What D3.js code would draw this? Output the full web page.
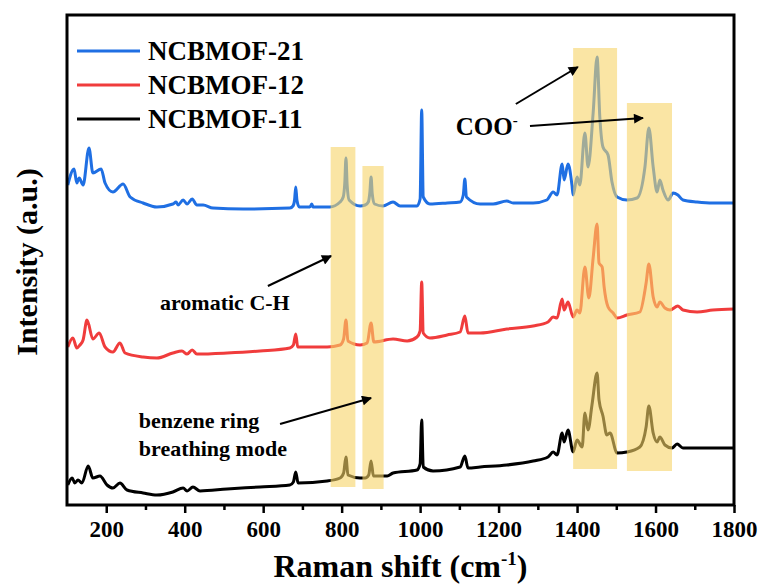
<!DOCTYPE html>
<meta charset="utf-8">
<style>
body { margin: 0; background: #fff; }
text { font-family: "Times New Roman", "Liberation Serif", serif; font-weight: bold; fill: #000; }
.tick text { font-size: 23px; }
</style>
<script src="https://cdn.jsdelivr.net/npm/d3@7"></script>
<body>
<svg width="764" height="586"></svg>
<script>

// Raman spectra: [wavenumber, intensity (a.u., stacked)]
var ncb21 = [[102,320],[118,336],[125,322],[131,327],[141,320],[156,357],[166,332],[187,336],[197,322],[217,313],
  [243,321],[261,308],[294,302],[329,298],[370,301],[378,303],[383,300],[396,305],[406,301],[419,306],[431,300],
  [447,300],[472,297],[549,296],[668,297],[676,299],[680,305],[683,318],[686,305],[692,298],[719,298],[724,301],
  [727,298],[770,298],[796,303],[804,308],[808,322],[811,347],[814,320],[819,305],[847,299],[860,300],[868,303],
  [872,313],[875,328],[878,311],[884,301],[905,299],[931,303],[949,299],[992,299],[1000,306],[1004,395],
  [1008,308],[1025,301],[1069,302],[1102,303],[1110,310],[1114,326],[1118,308],[1153,301],[1186,301],[1221,304],
  [1237,302],[1288,302],[1323,305],[1339,313],[1349,310],[1362,341],[1367,325],[1377,341],[1387,320],[1390,310],
  [1400,328],[1407,320],[1420,372],[1428,338],[1441,392],[1451,448],[1458,388],[1466,358],[1479,350],[1489,323],
  [1502,308],[1527,305],[1553,307],[1573,338],[1583,377],[1594,338],[1604,313],[1611,325],[1619,315],[1632,305],
  [1645,312],[1657,310],[1670,305],[1706,303],[1746,302],[1800,302]];

var ncb12 = [[102,158],[115,167],[125,157],[133,160],[141,165],[151,185],[166,166],[182,172],[197,158],[217,153],
  [235,162],[248,152],[294,148],[329,147],[370,152],[393,154],[406,151],[419,155],[431,151],[508,152],[592,154],
  [668,157],[677,160],[683,171],[688,158],[763,158],[796,160],[805,166],[811,185],[816,164],[847,160],[865,162],
  [875,182],[882,163],[931,166],[967,164],[992,168],[1000,174],[1004,223],[1008,172],[1025,167],[1069,170],
  [1102,173],[1114,189],[1122,172],[1153,172],[1221,176],[1288,179],[1326,183],[1339,188],[1349,187],[1362,206],
  [1367,195],[1377,203],[1390,188],[1400,195],[1407,192],[1420,238],[1430,207],[1441,247],[1451,281],[1456,242],
  [1464,238],[1469,218],[1479,198],[1492,192],[1502,187],[1527,190],[1560,193],[1576,222],[1583,241],[1594,208],
  [1604,198],[1611,203],[1624,197],[1637,195],[1657,199],[1670,195],[1706,193],[1746,195],[1800,196]];

var ncb11 = [[102,20],[113,27],[120,22],[128,25],[138,22],[154,39],[166,27],[184,29],[202,20],[217,17],[235,22],
  [253,15],[294,12],[329,10],[370,13],[396,17],[406,14],[421,18],[439,14],[508,16],[592,18],[668,20],[677,23],
  [683,33],[689,22],[763,24],[796,27],[805,32],[811,48],[816,30],[847,27],[860,27],[869,30],[875,44],[881,29],
  [916,29],[931,32],[992,35],[1000,41],[1004,85],[1008,38],[1033,34],[1102,38],[1114,49],[1122,37],[1153,38],
  [1221,40],[1288,44],[1326,48],[1339,53],[1349,50],[1362,72],[1367,63],[1377,75],[1390,53],[1400,65],[1413,58],
  [1420,92],[1428,75],[1438,100],[1451,132],[1456,105],[1466,89],[1476,70],[1484,72],[1502,52],[1527,53],
  [1560,58],[1576,78],[1583,99],[1594,72],[1604,63],[1611,68],[1624,60],[1642,57],[1655,61],[1670,57],
  [1706,57],[1800,57]];

var seriesNames = ["NCBMOF-21", "NCBMOF-12", "NCBMOF-11"];
var seriesColors = ["#1f6fe3", "#f03c3c", "#000000"];
var xTicks = [200, 400, 600, 800, 1000, 1200, 1400, 1600, 1800];

// highlighted bands: [x0, x1, yBottom, yTop]
var bands = [[772, 835, 18, 358], [853, 907, 16, 339], [1390, 1502, 36, 457], [1527, 1642, 34, 402]];

var svg = d3.select("svg"),
    margin = {top: 15, right: 30, bottom: 81, left: 67},
    width = +svg.attr("width") - margin.left - margin.right,
    height = +svg.attr("height") - margin.top - margin.bottom;

var x = d3.scaleLinear().domain([100, 1800]).range([margin.left, margin.left + width]);
var y = d3.scaleLinear().domain([0, 490]).range([margin.top + height, margin.top]);

var defs = svg.append("defs");
defs.append("marker")
    .attr("id", "arrow")
    .attr("viewBox", "0 0 10 10")
    .attr("refX", 9).attr("refY", 5)
    .attr("markerWidth", 6).attr("markerHeight", 5)
    .attr("markerUnits", "strokeWidth")
    .attr("orient", "auto")
  .append("path")
    .attr("d", "M0,0L10,5L0,10z")
    .attr("fill", "#000");

var line = d3.line()
    .x(function(d) { return x(d[0]); })
    .y(function(d) { return y(d[1]); })
    .curve(d3.curveMonotoneX);

[ncb21, ncb12, ncb11].forEach(function(s, i) {
  svg.append("path")
      .datum(s)
      .attr("fill", "none")
      .attr("stroke", seriesColors[i])
      .attr("stroke-width", 3)
      .attr("stroke-linejoin", "round")
      .attr("d", line);
});

// yellow bands go over the lines
svg.selectAll("rect.band")
  .data(bands)
  .enter().append("rect")
    .attr("class", "band")
    .attr("x", function(d) { return x(d[0]); })
    .attr("width", function(d) { return x(d[1]) - x(d[0]); })
    .attr("y", function(d) { return y(d[3]); })
    .attr("height", function(d) { return y(d[2]) - y(d[3]); })
    .attr("fill", "rgb(247,212,104)")
    .attr("fill-opacity", 0.6);

// bottom axis
var xAxis = svg.append("g")
    .attr("transform", "translate(0," + (margin.top + height) + ")")
    .call(d3.axisBottom(x).tickValues(xTicks).tickSize(8).tickPadding(8).tickFormat(d3.format("d")));
xAxis.select(".domain").remove();
xAxis.selectAll(".tick line").attr("stroke-width", 2.5);
svg.append("g")
    .attr("transform", "translate(0," + (margin.top + height) + ")")
    .call(d3.axisBottom(x).tickValues(d3.range(300, 1800, 200)).tickSize(5).tickFormat(""))
  .call(function(g) { g.select(".domain").remove(); g.selectAll("line").attr("stroke-width", 2.5); });

// frame
svg.append("rect")
    .attr("x", margin.left).attr("y", margin.top)
    .attr("width", width).attr("height", height)
    .attr("fill", "none").attr("stroke", "#000").attr("stroke-width", 3);

// axis titles
var xt = svg.append("text")
    .attr("x", margin.left + width / 2)
    .attr("y", 577)
    .attr("text-anchor", "middle")
    .style("font-size", "32px")
    .text("Raman shift (cm");
xt.append("tspan").attr("dy", -12).style("font-size", "19px").text("-1");
xt.append("tspan").attr("dy", 12).text(")");

svg.append("text")
    .attr("transform", "translate(37," + (margin.top + height / 2 + 2) + ") rotate(-90)")
    .attr("text-anchor", "middle")
    .style("font-size", "30px")
    .text("Intensity (a.u.)");

// legend
seriesNames.forEach(function(n, i) {
  var ly = 51 + i * 34;
  svg.append("line")
      .attr("x1", 77).attr("x2", 140).attr("y1", ly).attr("y2", ly)
      .attr("stroke", seriesColors[i]).attr("stroke-width", 3);
  svg.append("text")
      .attr("x", 148).attr("y", ly + 9)
      .style("font-size", "27px")
      .text(n);
});

// annotations
function arrow(x0, y0, x1, y1) {
  svg.append("line")
      .attr("x1", x(x0)).attr("y1", y(y0)).attr("x2", x(x1)).attr("y2", y(y1))
      .attr("stroke", "#000").attr("stroke-width", 2)
      .attr("marker-end", "url(#arrow)");
}

svg.append("text").attr("x", x(337)).attr("y", y(195)).style("font-size", "22px").text("aromatic C-H");
arrow(612, 219, 773, 249);

svg.append("text").attr("x", x(283)).attr("y", y(77)).style("font-size", "22px").text("benzene ring");
svg.append("text").attr("x", x(283)).attr("y", y(49)).style("font-size", "22px").text("breathing mode");
arrow(643, 81, 875, 107);

var coo = svg.append("text").attr("x", x(1091)).attr("y", y(370)).style("font-size", "25px").text("COO");
coo.append("tspan").attr("dy", -10).style("font-size", "15px").text("-");
arrow(1244, 401, 1402, 438);
arrow(1280, 379, 1568, 387);

</script>
</body>
